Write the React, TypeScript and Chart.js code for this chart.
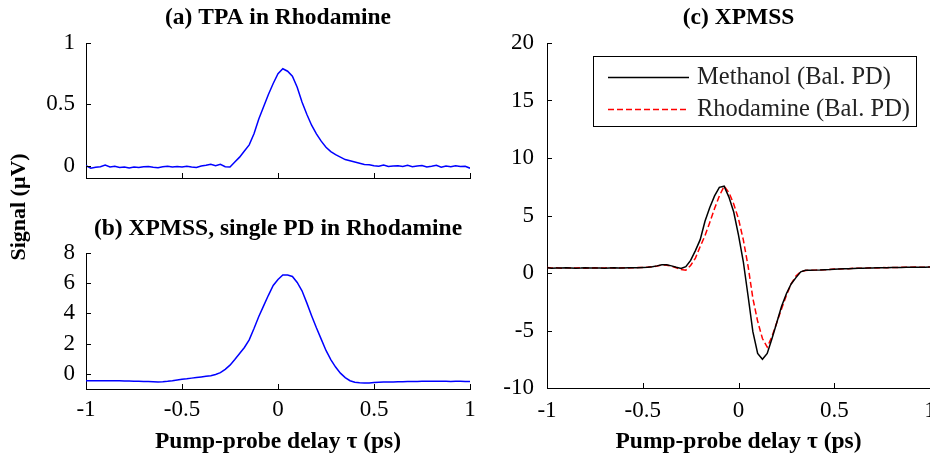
import React, { useEffect, useRef } from 'react';
import { Chart, registerables } from 'chart.js';

Chart.register(...registerables);

// ---------------- data ----------------
const delays = [
  -1, -0.975, -0.95, -0.925, -0.9, -0.875, -0.85, -0.825, -0.8, -0.775,
  -0.75, -0.725, -0.7, -0.675, -0.65, -0.625, -0.6, -0.575, -0.55, -0.525,
  -0.5, -0.475, -0.45, -0.425, -0.4, -0.375, -0.35, -0.325, -0.3, -0.275,
  -0.25, -0.225, -0.2, -0.175, -0.15, -0.125, -0.1, -0.075, -0.05, -0.025,
  0, 0.025, 0.05, 0.075, 0.1, 0.125, 0.15, 0.175, 0.2, 0.225,
  0.25, 0.275, 0.3, 0.325, 0.35, 0.375, 0.4, 0.425, 0.45, 0.475,
  0.5, 0.525, 0.55, 0.575, 0.6, 0.625, 0.65, 0.675, 0.7, 0.725,
  0.75, 0.775, 0.8, 0.825, 0.85, 0.875, 0.9, 0.925, 0.95, 0.975, 1,
];

// (a) TPA in Rhodamine (µV)
const tpaRhodamine = [
  0.0, -0.02, -0.012, -0.008, 0.005, -0.01, -0.004, -0.014, -0.01, -0.018,
  -0.01, -0.015, -0.008, -0.006, -0.012, -0.016, -0.009, -0.004, -0.011, -0.006,
  -0.01, -0.004, -0.01, -0.014, -0.003, 0.004, 0.012, 0.0, 0.012, -0.008,
  -0.01, 0.03, 0.07, 0.12, 0.17, 0.26, 0.38, 0.48, 0.58, 0.67,
  0.75, 0.79, 0.77, 0.73, 0.64, 0.52, 0.42, 0.33, 0.26, 0.2,
  0.15, 0.115, 0.09, 0.07, 0.05, 0.04, 0.03, 0.02, 0.01, 0.008,
  0.0, -0.004, 0.006, -0.006, -0.002, 0.0, -0.006, 0.004, -0.008, -0.002,
  0.002, -0.01, -0.004, 0.004, -0.012, -0.002, -0.008, 0.0, -0.006, -0.004, -0.02,
];

// (b) XPMSS, single PD in Rhodamine (µV)
const singlePdRhodamine = [
  -0.45, -0.45, -0.46, -0.45, -0.45, -0.46, -0.45, -0.46, -0.47, -0.47,
  -0.48, -0.49, -0.5, -0.51, -0.52, -0.53, -0.52, -0.49, -0.45, -0.4,
  -0.35, -0.32, -0.28, -0.24, -0.2, -0.16, -0.12, -0.04, 0.08, 0.3,
  0.58, 0.95, 1.35, 1.75, 2.25, 3.0, 3.8, 4.5, 5.2, 5.85,
  6.25, 6.55, 6.55, 6.45, 6.05, 5.5, 4.7, 3.85, 3.05, 2.3,
  1.55, 0.95, 0.45, 0.05, -0.25, -0.45, -0.55, -0.58, -0.6, -0.6,
  -0.57, -0.55, -0.54, -0.54, -0.53, -0.52, -0.52, -0.51, -0.5, -0.5,
  -0.49, -0.49, -0.48, -0.48, -0.49, -0.49, -0.5, -0.48, -0.49, -0.5, -0.51,
];

// (c) XPMSS balanced PD (µV)
const methanolBal = [
  0.45, 0.42, 0.44, 0.43, 0.45, 0.44, 0.42, 0.43, 0.45, 0.44,
  0.43, 0.44, 0.42, 0.44, 0.45, 0.43, 0.44, 0.45, 0.46, 0.45,
  0.48, 0.5, 0.55, 0.62, 0.72, 0.72, 0.62, 0.5, 0.4, 0.55,
  1.1, 1.95, 2.9, 4.5, 5.7, 6.7, 7.45, 7.55, 6.6, 5.3,
  3.3, 1.0, -2.0, -5.1, -7.0, -7.5, -7.0, -5.7, -4.3, -2.9,
  -1.8, -0.95, -0.4, 0.1, 0.23, 0.24, 0.25, 0.26, 0.28, 0.3,
  0.33, 0.35, 0.37, 0.38, 0.4, 0.41, 0.42, 0.43, 0.44, 0.45,
  0.46, 0.46, 0.47, 0.48, 0.48, 0.49, 0.5, 0.5, 0.51, 0.5, 0.52,
];

const rhodamineBal = [
  0.47, 0.44, 0.45, 0.42, 0.46, 0.43, 0.44, 0.45, 0.42, 0.44,
  0.45, 0.43, 0.44, 0.46, 0.43, 0.44, 0.45, 0.44, 0.45, 0.47,
  0.47, 0.5, 0.54, 0.6, 0.7, 0.68, 0.6, 0.45, 0.3, 0.25,
  0.65, 1.3, 2.3, 3.25, 4.4, 5.6, 6.7, 7.55, 7.0, 6.0,
  4.7, 2.9, 0.6, -2.2, -4.2, -5.7, -6.45, -5.5, -4.3, -3.1,
  -1.95, -0.95, -0.25, 0.12, 0.22, 0.24, 0.25, 0.27, 0.28, 0.31,
  0.34, 0.35, 0.38, 0.38, 0.41, 0.42, 0.41, 0.44, 0.45, 0.44,
  0.47, 0.46, 0.48, 0.47, 0.49, 0.5, 0.49, 0.52, 0.5, 0.51, 0.53,
];

const xTicks = [-1, -0.5, 0, 0.5, 1];
const yTicksA = [0, 0.5, 1];
const yTicksB = [0, 2, 4, 6, 8];
const yTicksC = [-10, -5, 0, 5, 10, 15, 20];

const titleA = '(a) TPA in Rhodamine';
const titleB = '(b) XPMSS, single PD in Rhodamine';
const titleC = '(c) XPMSS';
const xLabel = 'Pump-probe delay \u03c4 (ps)';
const yLabel = 'Signal (\u03bcV)';

// ---------------- styling ----------------
const SERIF = "'Liberation Serif', 'Times New Roman', Times, serif";
const TICK_SIZE = 23;
const BOLD_SIZE = 23.5;

// ---------------- plugins ----------------
const inwardTicks = {
  id: 'inwardTicks',
  afterDraw(chart: any) {
    const { ctx, chartArea } = chart;
    const xs = chart.scales.x;
    const ys = chart.scales.y;
    ctx.save();
    ctx.strokeStyle = '#000';
    ctx.lineWidth = 1;
    ctx.beginPath();
    for (const t of xs.ticks) {
      const p = Math.round(xs.getPixelForValue(t.value)) + 0.5;
      ctx.moveTo(p, chartArea.bottom);
      ctx.lineTo(p, chartArea.bottom - 5);
    }
    for (const t of ys.ticks) {
      const p = Math.round(ys.getPixelForValue(t.value)) + 0.5;
      ctx.moveTo(chartArea.left, p);
      ctx.lineTo(chartArea.left + 5, p);
    }
    ctx.stroke();
    ctx.restore();
  },
};

const panelTitle = {
  id: 'panelTitle',
  afterDraw(chart: any, _args: any, opts: any) {
    if (!opts || !opts.text) return;
    const { ctx, chartArea } = chart;
    ctx.save();
    ctx.font = `bold ${BOLD_SIZE}px ${SERIF}`;
    ctx.fillStyle = '#000';
    ctx.textAlign = 'center';
    ctx.textBaseline = 'middle';
    ctx.fillText(opts.text, (chartArea.left + chartArea.right) / 2, opts.y);
    ctx.restore();
  },
};

const boxLegend = {
  id: 'boxLegend',
  afterDraw(chart: any, _args: any, opts: any) {
    if (!opts || !opts.display) return;
    const { ctx, chartArea } = chart;
    const w = opts.width;
    const h = opts.height;
    const left = chartArea.right - opts.right - w;
    const top = chartArea.top + opts.top;
    ctx.save();
    ctx.fillStyle = '#fff';
    ctx.fillRect(left, top, w, h);
    ctx.strokeStyle = '#000';
    ctx.lineWidth = 1;
    ctx.strokeRect(Math.round(left) + 0.5, Math.round(top) + 0.5, w, h);
    ctx.font = `${opts.fontSize}px ${SERIF}`;
    ctx.textAlign = 'left';
    ctx.textBaseline = 'middle';
    chart.data.datasets.forEach((ds: any, i: number) => {
      const y = Math.round(top + opts.firstRow + i * opts.rowGap) + 0.5;
      ctx.strokeStyle = ds.borderColor;
      ctx.lineWidth = ds.borderWidth;
      ctx.setLineDash(ds.borderDash || []);
      ctx.beginPath();
      ctx.moveTo(left + opts.lineStart, y);
      ctx.lineTo(left + opts.lineEnd, y);
      ctx.stroke();
      ctx.setLineDash([]);
      ctx.fillStyle = '#222';
      ctx.fillText(ds.label, left + opts.textStart, y);
    });
    ctx.restore();
  },
};

type Series = { label: string; values: number[]; color: string; dash?: number[] };
type Panel = {
  series: Series[];
  yMin: number;
  yMax: number;
  yTicks: number[];
  title: string;
  titleY: number;
  padTop: number;
  padRight: number;
  yWidth: number;
  yTickPad: number;
  xHeight: number;
  showX: boolean;
  xTickPad: number;
  xTitlePad: number;
  legend?: any;
};

function makeConfig(p: Panel): any {
  const tickFont = { family: SERIF, size: TICK_SIZE };
  return {
    type: 'line',
    data: {
      datasets: p.series.map((s) => ({
        label: s.label,
        data: delays.map((x, i) => ({ x, y: s.values[i] })),
        borderColor: s.color,
        backgroundColor: s.color,
        borderWidth: 1.5,
        borderDash: s.dash || [],
        pointRadius: 0,
        tension: 0,
        fill: false,
      })),
    },
    options: {
      responsive: false,
      animation: false,
      events: [],
      layout: { padding: { top: p.padTop, left: 0, right: p.padRight, bottom: 0 } },
      plugins: {
        legend: { display: false },
        tooltip: { enabled: false },
        title: { display: false },
        panelTitle: { text: p.title, y: p.titleY },
        boxLegend: p.legend || { display: false },
      },
      scales: {
        x: {
          type: 'linear',
          min: -1,
          max: 1,
          afterBuildTicks: (s: any) => {
            s.ticks = xTicks.map((v) => ({ value: v }));
          },
          afterFit: (s: any) => {
            s.height = p.xHeight;
            s.paddingLeft = 0;
            s.paddingRight = 0;
          },
          grid: { display: false, drawTicks: false },
          border: { display: true, color: '#000', width: 1 },
          ticks: {
            display: p.showX,
            padding: p.xTickPad,
            font: tickFont,
            color: '#000',
            maxRotation: 0,
            autoSkip: false,
            callback: (v: any) => String(v),
          },
          title: {
            display: p.showX,
            text: xLabel,
            color: '#000',
            font: { family: SERIF, size: BOLD_SIZE, weight: 'bold' },
            padding: { top: 0, bottom: p.xTitlePad },
          },
        },
        y: {
          type: 'linear',
          min: p.yMin,
          max: p.yMax,
          afterBuildTicks: (s: any) => {
            s.ticks = p.yTicks.map((v) => ({ value: v }));
          },
          afterFit: (s: any) => {
            s.width = p.yWidth;
            s.paddingTop = 0;
            s.paddingBottom = 0;
          },
          grid: { display: false, drawTicks: false },
          border: { display: true, color: '#000', width: 1 },
          ticks: {
            padding: p.yTickPad,
            font: tickFont,
            color: '#000',
            autoSkip: false,
            callback: (v: any) => String(v),
          },
        },
      },
    },
    plugins: [inwardTicks, panelTitle, boxLegend],
  };
}

export default function App() {
  const refA = useRef<HTMLCanvasElement>(null);
  const refB = useRef<HTMLCanvasElement>(null);
  const refC = useRef<HTMLCanvasElement>(null);

  useEffect(() => {
    const charts: Chart[] = [];
    if (refA.current) {
      charts.push(
        new Chart(
          refA.current,
          makeConfig({
            series: [{ label: 'TPA', values: tpaRhodamine, color: '#0000ff' }],
            yMin: -0.1,
            yMax: 1,
            yTicks: yTicksA,
            title: titleA,
            titleY: 18,
            padTop: 43,
            padRight: 10,
            yWidth: 86,
            yTickPad: 11,
            xHeight: 22,
            showX: false,
            xTickPad: 8,
            xTitlePad: 0,
          })
        )
      );
    }
    if (refB.current) {
      charts.push(
        new Chart(
          refB.current,
          makeConfig({
            series: [{ label: 'Single PD', values: singlePdRhodamine, color: '#0000ff' }],
            yMin: -1,
            yMax: 8,
            yTicks: yTicksB,
            title: titleB,
            titleY: 29,
            padTop: 53,
            padRight: 10,
            yWidth: 86,
            yTickPad: 11,
            xHeight: 68,
            showX: true,
            xTickPad: 7,
            xTitlePad: 1,
          })
        )
      );
    }
    if (refC.current) {
      charts.push(
        new Chart(
          refC.current,
          makeConfig({
            series: [
              { label: 'Methanol (Bal. PD)', values: methanolBal, color: '#000000' },
              { label: 'Rhodamine (Bal. PD)', values: rhodamineBal, color: '#ff0000', dash: [6, 3] },
            ],
            yMin: -10,
            yMax: 20,
            yTicks: yTicksC,
            title: titleC,
            titleY: 18,
            padTop: 43,
            padRight: 0,
            yWidth: 67,
            yTickPad: 13,
            xHeight: 69,
            showX: true,
            xTickPad: 9,
            xTitlePad: 1,
            legend: {
              display: true,
              right: 14,
              top: 13,
              width: 323,
              height: 70,
              lineStart: 15,
              lineEnd: 96,
              textStart: 104,
              firstRow: 21,
              rowGap: 32,
              fontSize: 24.5,
            },
          })
        )
      );
    }
    return () => charts.forEach((c) => c.destroy());
  }, []);

  return (
    <div
      style={{
        position: 'absolute',
        left: 0,
        top: 0,
        width: 930,
        height: 457,
        overflow: 'hidden',
        background: '#fff',
      }}
    >
      <canvas ref={refA} width={480} height={200} style={{ position: 'absolute', left: 0, top: 0 }} />
      <canvas ref={refB} width={480} height={257} style={{ position: 'absolute', left: 0, top: 200 }} />
      <canvas ref={refC} width={450} height={457} style={{ position: 'absolute', left: 480, top: 0 }} />
      <div
        style={{
          position: 'absolute',
          left: 18 - 100,
          top: 207 - 13,
          width: 200,
          height: 26,
          lineHeight: '26px',
          textAlign: 'center',
          transform: 'rotate(-90deg)',
          font: `bold 22px ${SERIF}`,
          color: '#000',
          whiteSpace: 'nowrap',
        }}
      >
        {yLabel}
      </div>
    </div>
  );
}
